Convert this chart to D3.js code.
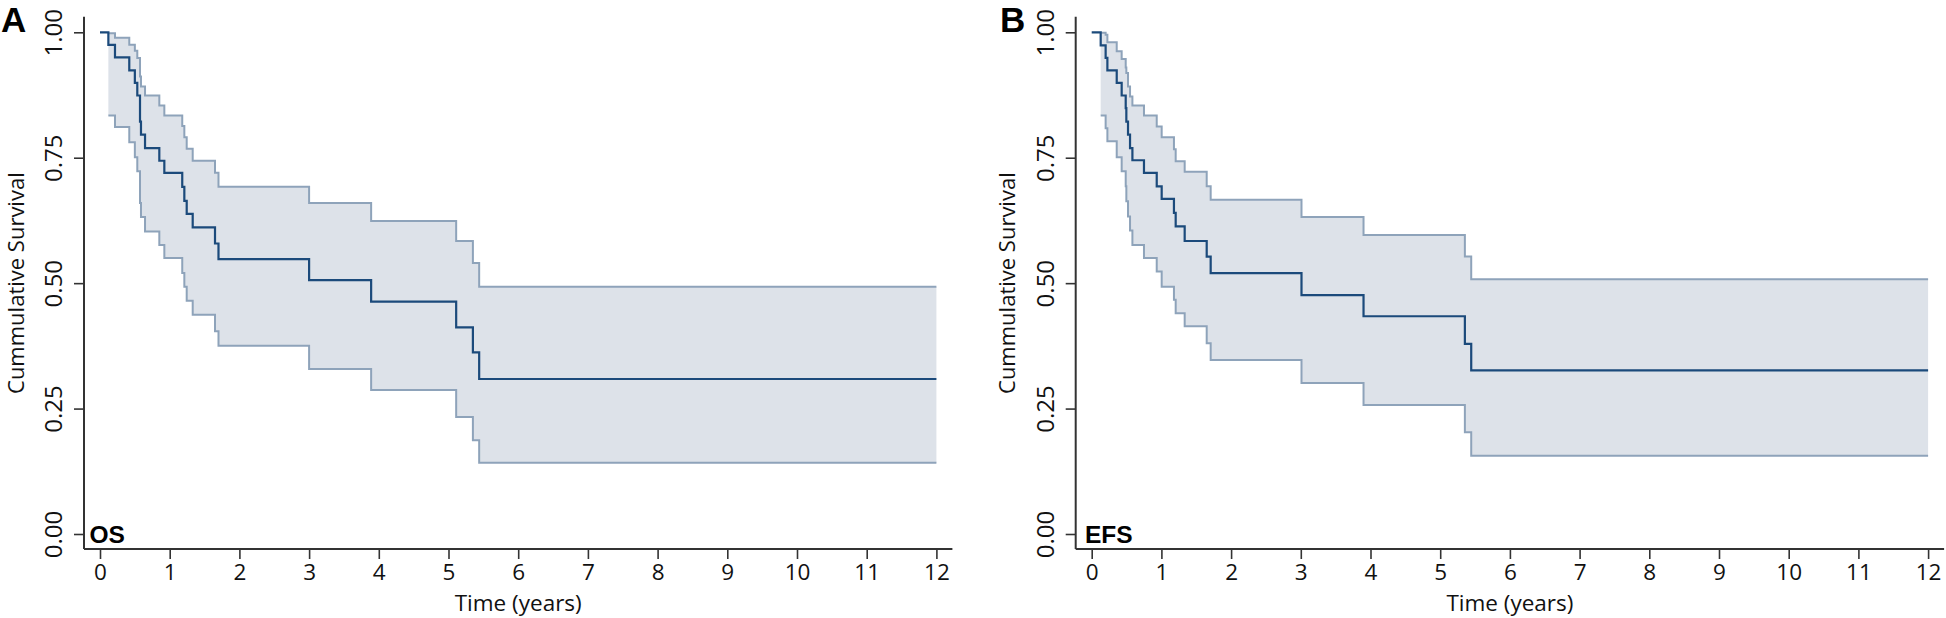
<!DOCTYPE html>
<html>
<head>
<meta charset="utf-8">
<script src="https://cdn.jsdelivr.net/npm/d3@7"></script>
<style>
  html, body { margin: 0; padding: 0; background: #ffffff; }
  svg { display: block; }
</style>
</head>
<body>
<svg id="chart" width="1946" height="618"></svg>
<script>
// ---------------- DATA ----------------
const timeTicks = [0, 1, 2, 3, 4, 5, 6, 7, 8, 9, 10, 11, 12];
const survTicks = [0, 0.25, 0.5, 0.75, 1];
const panelLetters = ["A", "B"];
const panelNames = ["OS", "EFS"];
const maxTime = 12;

// Overall survival (panel A)
const osTimes = [0.12, 0.215, 0.42, 0.50, 0.535, 0.574, 0.588, 0.646, 0.851, 0.923, 1.18, 1.21, 1.244, 1.33, 1.65, 1.70, 3.00, 3.89, 5.11, 5.35, 5.44];
const osSurv  = [0.975, 0.950, 0.924, 0.899, 0.874, 0.822, 0.796, 0.769, 0.744, 0.720, 0.692, 0.664, 0.638, 0.611, 0.579, 0.548, 0.506, 0.463, 0.412, 0.362, 0.309];
const osUpper = [0.998, 0.989, 0.975, 0.963, 0.949, 0.912, 0.892, 0.874, 0.854, 0.834, 0.813, 0.791, 0.768, 0.744, 0.720, 0.692, 0.660, 0.624, 0.584, 0.540, 0.493];
const osLower = [0.834, 0.811, 0.781, 0.751, 0.723, 0.660, 0.632, 0.603, 0.576, 0.550, 0.520, 0.493, 0.465, 0.437, 0.404, 0.375, 0.329, 0.287, 0.233, 0.187, 0.142];

// Event-free survival (panel B)
const efsTimes = [0.129, 0.20, 0.225, 0.359, 0.43, 0.488, 0.497, 0.521, 0.55, 0.584, 0.75, 0.933, 1.004, 1.18, 1.205, 1.334, 1.65, 1.707, 3.01, 3.90, 5.354, 5.445];
const efsSurv  = [0.974, 0.949, 0.924, 0.899, 0.874, 0.849, 0.822, 0.796, 0.769, 0.745, 0.720, 0.693, 0.668, 0.640, 0.613, 0.584, 0.553, 0.520, 0.476, 0.434, 0.379, 0.326];
const efsUpper = [0.999, 0.995, 0.980, 0.962, 0.947, 0.930, 0.919, 0.892, 0.872, 0.854, 0.834, 0.812, 0.791, 0.767, 0.743, 0.722, 0.693, 0.666, 0.632, 0.596, 0.553, 0.508];
const efsLower = [0.834, 0.809, 0.783, 0.751, 0.723, 0.693, 0.663, 0.633, 0.605, 0.576, 0.550, 0.523, 0.493, 0.467, 0.440, 0.414, 0.380, 0.347, 0.301, 0.257, 0.203, 0.156];

// ---------------- STYLE ----------------
const fillColor = "#dde2e9";
const ciColor = "#8ea3ba";
const survColor = "#1b4a7b";
const axisColor = "#333333";
const tickFont = "'Open Sans', 'Noto Sans', sans-serif";
const boldFont = "'Liberation Sans', Arial, sans-serif";

const svg = d3.select("#chart");

const panels = [
  { left: 84, times: osTimes, surv: osSurv, upper: osUpper, lower: osLower },
  { left: 1075.7, times: efsTimes, surv: efsSurv, upper: efsUpper, lower: efsLower }
];

panels.forEach((p, i) => {
  const g = svg.append("g");
  const axisX = p.left;
  const x0 = axisX + 16;
  const plotW = 836.4;           // width for 12 years
  const yTop = 32.3, yBottom = 534;
  const axisY = 549;

  const x = d3.scaleLinear().domain([0, maxTime]).range([x0, x0 + plotW]);
  const y = d3.scaleLinear().domain([0, 1]).range([yBottom, yTop]);

  // confidence band
  const band = p.times.map((t, k) => ({ t, lo: p.lower[k], hi: p.upper[k] }));
  band.push({ t: maxTime, lo: p.lower[p.lower.length - 1], hi: p.upper[p.upper.length - 1] });

  g.append("path")
    .datum(band)
    .attr("fill", fillColor)
    .attr("stroke", "none")
    .attr("d", d3.area().curve(d3.curveStepAfter)
      .x(d => x(d.t)).y0(d => y(d.lo)).y1(d => y(d.hi)));

  const ciLine = key => d3.line().curve(d3.curveStepAfter).x(d => x(d.t)).y(d => y(d[key]));
  ["hi", "lo"].forEach(key => {
    g.append("path")
      .datum(band)
      .attr("fill", "none")
      .attr("stroke", ciColor)
      .attr("stroke-width", 2)
      .attr("d", ciLine(key));
  });

  // survival step line
  const sPts = [{ t: 0, s: 1 }].concat(p.times.map((t, k) => ({ t, s: p.surv[k] })));
  sPts.push({ t: maxTime, s: p.surv[p.surv.length - 1] });
  g.append("path")
    .datum(sPts)
    .attr("fill", "none")
    .attr("stroke", survColor)
    .attr("stroke-width", 2.2)
    .attr("d", d3.line().curve(d3.curveStepAfter).x(d => x(d.t)).y(d => y(d.s)));

  // axes
  const xAxis = d3.axisBottom(x).tickValues(timeTicks).tickSize(10).tickSizeOuter(0).tickPadding(5)
    .tickFormat(d3.format("d"));
  const gx = g.append("g").attr("transform", `translate(0,${axisY})`).call(xAxis);
  gx.select(".domain").remove();
  gx.selectAll(".tick line").attr("stroke", axisColor).attr("stroke-width", 1.6);
  gx.selectAll(".tick text").attr("fill", "#111").style("font-family", tickFont).style("font-size", "22.5px");
  gx.append("line")
    .attr("x1", axisX).attr("x2", x.range()[1] + 16)
    .attr("y1", 0).attr("y2", 0)
    .attr("stroke", axisColor).attr("stroke-width", 2);

  const yAxis = d3.axisLeft(y).tickValues(survTicks).tickSize(10).tickSizeOuter(0)
    .tickFormat(d3.format(".2f"));
  const gy = g.append("g").attr("transform", `translate(${axisX},0)`).call(yAxis);
  gy.select(".domain").remove();
  gy.selectAll(".tick line").attr("stroke", axisColor).attr("stroke-width", 1.6);
  gy.selectAll(".tick text")
    .attr("transform", "rotate(-90)")
    .attr("x", 0).attr("y", -22).attr("dy", 0)
    .attr("text-anchor", "middle")
    .attr("fill", "#111")
    .style("font-family", tickFont).style("font-size", "24px");
  gy.append("line")
    .attr("x1", 0).attr("x2", 0)
    .attr("y1", yTop - 15.5).attr("y2", axisY)
    .attr("stroke", axisColor).attr("stroke-width", 2);

  // axis titles
  g.append("text")
    .attr("x", (x.range()[0] + x.range()[1]) / 2)
    .attr("y", 611)
    .attr("text-anchor", "middle")
    .attr("fill", "#111")
    .style("font-family", tickFont).style("font-size", "22.5px")
    .text("Time (years)");

  g.append("text")
    .attr("transform", `translate(${axisX - 60.5},${(yTop + yBottom) / 2}) rotate(-90)`)
    .attr("text-anchor", "middle")
    .attr("fill", "#111")
    .style("font-family", tickFont).style("font-size", "22px")
    .text("Cummulative Survival");

  // panel letter
  g.append("text")
    .attr("x", axisX - 83 + (i === 1 ? 7.3 : 0))
    .attr("y", 32)
    .attr("fill", "#000")
    .style("font-family", boldFont).style("font-weight", "bold").style("font-size", "35px")
    .text(panelLetters[i]);

  // panel name
  g.append("text")
    .attr("x", axisX + 5.5 + (i === 1 ? 3.8 : 0))
    .attr("y", 542.5)
    .attr("fill", "#000")
    .style("font-family", boldFont).style("font-weight", "bold").style("font-size", "24.5px")
    .text(panelNames[i]);
});
</script>
</body>
</html>
